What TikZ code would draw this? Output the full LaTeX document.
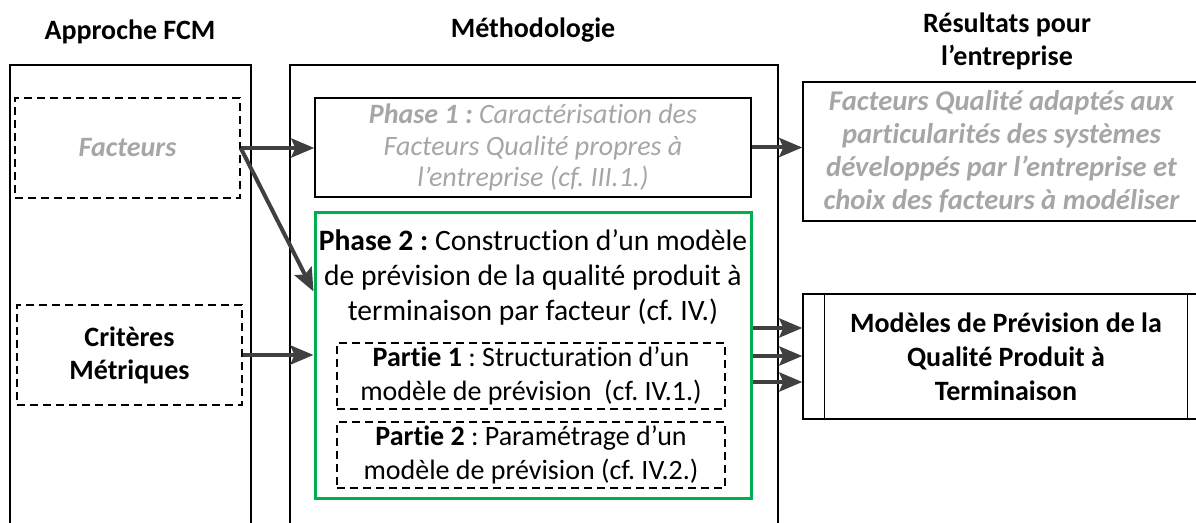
\documentclass[tikz,border=0pt]{standalone}
\usepackage{fontspec}
\setmainfont{Carlito}[Ligatures={TeX,NoCommon}]
\frenchspacing
\usetikzlibrary{arrows.meta}
\definecolor{gristexte}{HTML}{A6A6A6}
\definecolor{grisfleche}{HTML}{404040}
\definecolor{vertphase}{HTML}{00B050}

\begin{document}
\begin{tikzpicture}[x=0.5pt,y=-0.5pt]
			\tikzstyle{titre}=[font=\fontsize{14}{16.5}\selectfont\bfseries, align=center]
			\tikzstyle{boite}=[rectangle, draw, line width=0.7pt, inner sep=0pt, align=center, font=\fontsize{14}{17}\selectfont]
			\tikzstyle{tirets}=[boite, dash pattern=on 4pt off 2.5pt]
			\tikzstyle{fleche}=[draw=grisfleche, line width=2pt, -{Stealth[length=11.5pt,width=9.5pt,inset=2pt]}]
			\path[use as bounding box, clip] (0,0) rectangle (1196,523);
			
			% colonnes
			\node[titre] (tfcm) at (130,32) {Approche FCM};
			\node[titre] (tmetho) at (533,30) {Méthodologie};
			\node[titre] (tres) at (1007,41) {Résultats pour\\l’entreprise};
			\draw[line width=0.7pt] (10,530) -- (10,65) -- (251,65) -- (251,530);
			\draw[line width=0.7pt] (290,530) -- (290,65) -- (778,65) -- (778,530);
			
			\node[tirets, minimum width=112.5pt, minimum height=50pt, text=gristexte, font=\fontsize{14}{17}\selectfont\bfseries\itshape] (facteurs) at (127.5,148) {Facteurs};
			\node[tirets, minimum width=112.5pt, minimum height=50pt, font=\fontsize{14}{16.5}\selectfont\bfseries] (criteres) at (129.5,355) {Critères\\Métriques};
			
			\node[boite, minimum width=218pt, minimum height=49.5pt, text=gristexte, font=\fontsize{14}{15.8}\selectfont\itshape] (phaseA) at (533,147.5) {\textbf{Phase 1 :} Caractérisation des\\Facteurs Qualité propres à\\l’entreprise (cf. III.1.)};
			\node[boite, draw=vertphase, line width=1.5pt, minimum width=218pt, minimum height=143pt] (phaseB) at (533,356) {};
			\node[align=center, font=\fontsize{14.8}{17.5}\selectfont] (phaseBtxt) at (533,277) {\textbf{Phase 2 :} Construction d’un modèle\\de prévision de la qualité produit à\\terminaison par facteur (cf. IV.)};
			\node[tirets, minimum width=194pt, minimum height=33pt] (partieA) at (531,376) {\textbf{Partie 1} : Structuration d’un\\modèle de prévision~ (cf. IV.1.)};
			\node[tirets, minimum width=194pt, minimum height=33pt] (partieB) at (531,455) {\textbf{Partie 2} : Paramétrage d’un\\modèle de prévision (cf. IV.2.)};
			
			\node[boite, minimum width=198.5pt, minimum height=69.5pt, text=gristexte, font=\fontsize{14.3}{16.5}\selectfont\bfseries\itshape] (resA) at (1001.5,151.5) {Facteurs Qualité adaptés aux\\particularités des systèmes\\développés par l’entreprise et\\choix des facteurs à modéliser};
			\node[boite, minimum width=203pt, minimum height=62.5pt, font=\fontsize{14}{17}\selectfont\bfseries] (resB) at (1006,356.5) {Modèles de Prévision de la\\Qualité Produit à\\Terminaison};
			\draw[line width=0.7pt] ([xshift=11pt]resB.north west) -- ([xshift=11pt]resB.south west);
			\draw[line width=0.7pt] ([xshift=-11pt]resB.north east) -- ([xshift=-11pt]resB.south east);
			
			% fleches
			\draw[fleche] (facteurs.east) -- (facteurs.east -| phaseA.west);
			\draw[fleche] (facteurs.east) -- ([yshift=-40pt]phaseB.north west);
			\draw[fleche] (criteres.east) -- (criteres.east -| phaseB.west);
			\draw[fleche] (phaseA.east) -- (phaseA.east -| resA.west);
			\foreach \dy in {14,0,-13}
				\draw[fleche] ([yshift=\dy pt]phaseB.east) -- ([yshift=\dy pt]phaseB.east -| resB.west);
\end{tikzpicture}
\end{document}
